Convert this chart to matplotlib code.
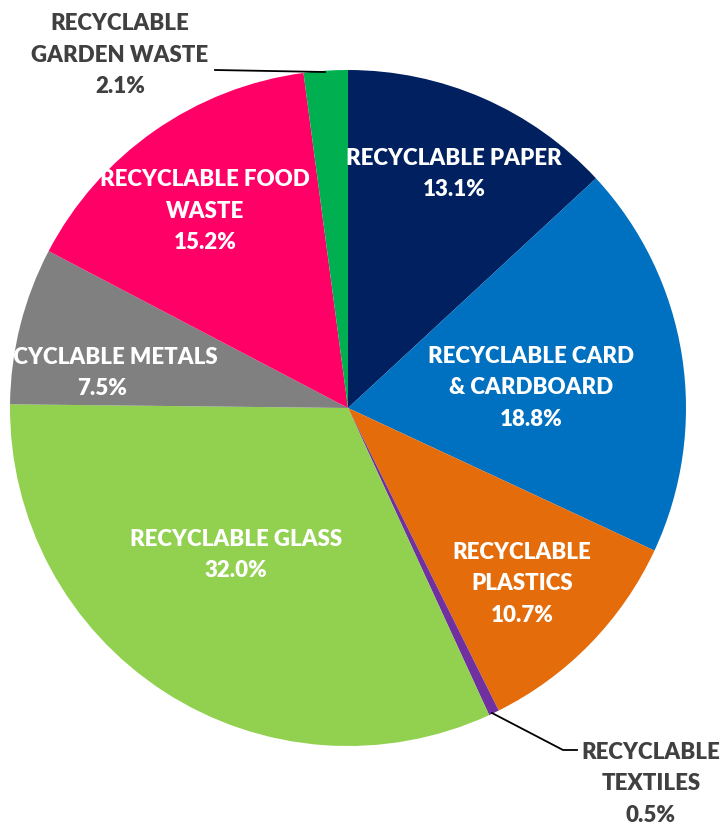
import matplotlib.pyplot as plt
from matplotlib.patches import Rectangle

# recycling composition shares (%)
categories = ['RECYCLABLE PAPER', 'RECYCLABLE CARD & CARDBOARD', 'RECYCLABLE PLASTICS',
              'RECYCLABLE TEXTILES', 'RECYCLABLE GLASS', 'RECYCLABLE METALS',
              'RECYCLABLE FOOD WASTE', 'RECYCLABLE GARDEN WASTE']
shares = [13.1, 18.8, 10.7, 0.5, 32.0, 7.5, 15.2, 2.1]
colors = ['#002060', '#0070C0', '#E46C0A', '#7030A0', '#92D050', '#808080', '#FF0066', '#00B050']
label_text = ['RECYCLABLE PAPER', 'RECYCLABLE CARD\n& CARDBOARD', 'RECYCLABLE\nPLASTICS',
              'RECYCLABLE\nTEXTILES', 'RECYCLABLE GLASS', 'RECYCLABLE METALS',
              'RECYCLABLE FOOD\nWASTE', 'RECYCLABLE\nGARDEN WASTE']

W, H = 720, 825
fig = plt.figure(figsize=(W / 100, H / 100), dpi=100)
ax = fig.add_axes([0, 0, 1, 1])
ax.set_xlim(0, W)
ax.set_ylim(0, H)
ax.set_aspect('equal')
ax.axis('off')

cx, cy, r = 348, H - 408, 338
ax.pie(shares, colors=colors, startangle=90, counterclock=False,
       center=(cx, cy), radius=r, wedgeprops=dict(linewidth=0))
ax.set_xlim(0, W)
ax.set_ylim(0, H)

# label centres in pixel coordinates (x, y from top)
pos = [(454, 174), (531, 388), (522, 584), (651, 784),
       (236, 555), (102, 373), (205, 211), (120, 55)]
outside = [3, 7]

font = ['Lato', 'DejaVu Sans']
for i, (lx, ly) in enumerate(pos):
    txt = label_text[i] + '\n' + f'{shares[i]:.1f}%'
    col = '#404040' if i in outside else 'white'
    t = ax.text(lx, H - ly, txt, ha='center', va='center', color=col,
                fontsize=16, fontweight='heavy', family=font, linespacing=1.6)
    if i == 5:
        # metals label runs past the left edge of the plot area
        clip = Rectangle((16, 0), W, H, transform=ax.transData)
        t.set_clip_path(clip)

# leader lines
ax.plot([215, 325], [H - 70, H - 72], color='black', lw=1.3)
ax.plot([492, 563, 577], [H - 713, H - 750, H - 750], color='black', lw=1.3)

fig.savefig('out.png', dpi=100)
